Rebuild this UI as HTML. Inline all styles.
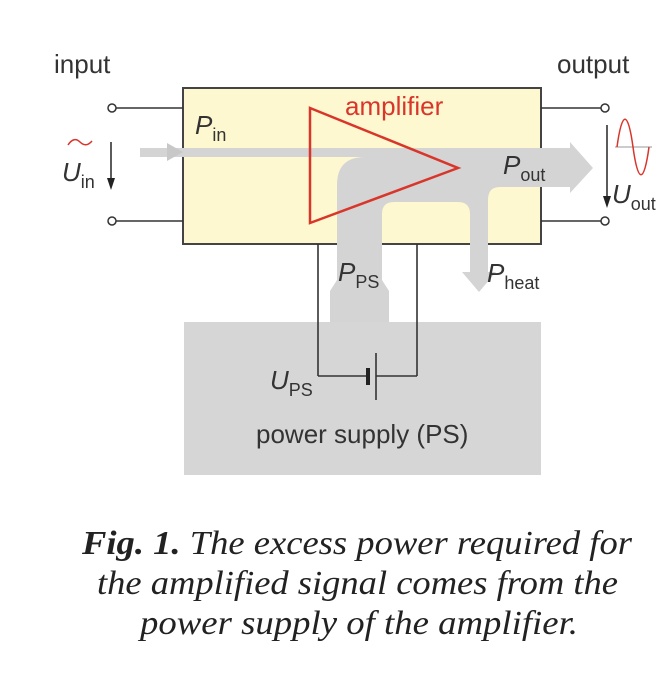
<!DOCTYPE html>
<html><head><style>body{margin:0;background:#fff}svg{display:block}</style></head><body>
<svg width="660" height="698" viewBox="0 0 660 698" xmlns="http://www.w3.org/2000/svg" font-family="Liberation Sans, sans-serif">
<rect x="183" y="88" width="358" height="156" fill="#fdf8cf" stroke="#444" stroke-width="2"/>
<rect x="184" y="322" width="357" height="153" fill="#d6d6d6"/>
<path d="M140,148 H570 V142 L593,168 L570,193 V187 H500 Q488,187 488,200 V272 H496 L479,292 L462,272 H470 V214 Q470,202 458,202 H394 Q382,202 382,214 V280 L389,291 V322 H330 V291 L337,280 V185 Q337,157 365,157 H140 Z" fill="#d4d4d4"/>
<path d="M167,143 L183,152 L167,161 Z" fill="#c8c8c8"/>
<polygon points="310,108 458,168 310,223" fill="none" stroke="#d9362b" stroke-width="2.5"/>
<g stroke="#333" stroke-width="1.6" fill="none">
<line x1="116" y1="108" x2="183" y2="108"/><line x1="116" y1="221" x2="183" y2="221"/>
<line x1="541" y1="108" x2="601" y2="108"/><line x1="541" y1="221" x2="601" y2="221"/>
<line x1="318" y1="244" x2="318" y2="376"/><line x1="417" y1="244" x2="417" y2="376"/>
<line x1="318" y1="376" x2="366" y2="376"/><line x1="376" y1="376" x2="417" y2="376"/>
<line x1="376" y1="353" x2="376" y2="400"/>
<line x1="111" y1="142" x2="111" y2="180"/><line x1="607" y1="125" x2="607" y2="198"/>
</g>
<line x1="368" y1="368" x2="368" y2="385" stroke="#222" stroke-width="4"/>
<circle cx="112" cy="108" r="4" fill="#fff" stroke="#333" stroke-width="1.5"/>
<circle cx="112" cy="221" r="4" fill="#fff" stroke="#333" stroke-width="1.5"/>
<circle cx="605" cy="108" r="4" fill="#fff" stroke="#333" stroke-width="1.5"/>
<circle cx="605" cy="221" r="4" fill="#fff" stroke="#333" stroke-width="1.5"/>
<path d="M107,178 L111,190 L115,178 Z" fill="#222"/>
<path d="M603,196 L607,208 L611,196 Z" fill="#222"/>
<path d="M68,145 Q74,136 80,142 T92,141" fill="none" stroke="#d9362b" stroke-width="1.5"/>
<line x1="615" y1="147" x2="652" y2="147" stroke="#999" stroke-width="1"/>
<path d="M617,147 C622,110 628,110 633,147 C638,184 644,184 649,147" fill="none" stroke="#d9362b" stroke-width="1.5"/>
<g fill="#333" font-size="26">
<text x="54" y="73">input</text>
<text x="557" y="73">output</text>
<text x="345" y="115" fill="#d9362b">amplifier</text>
<text x="195" y="134" font-style="italic">P<tspan font-size="18" font-style="normal" dy="7">in</tspan></text>
<text x="503" y="174" font-style="italic">P<tspan font-size="18" font-style="normal" dy="7">out</tspan></text>
<text x="62" y="181" font-style="italic">U<tspan font-size="18" font-style="normal" dy="7">in</tspan></text>
<text x="612" y="203" font-style="italic">U<tspan font-size="18" font-style="normal" dy="7">out</tspan></text>
<text x="487" y="282" font-style="italic">P<tspan font-size="18" font-style="normal" dy="7">heat</tspan></text>
<text x="338" y="281" font-style="italic">P<tspan font-size="18" font-style="normal" dy="7">PS</tspan></text>
<text x="270" y="389" font-style="italic">U<tspan font-size="18" font-style="normal" dy="7">PS</tspan></text>
<text x="256" y="443">power supply (PS)</text>
</g>
<g font-family="Liberation Serif, serif" font-style="italic" font-size="34" fill="#222">
<text x="82" y="554" textLength="550" lengthAdjust="spacingAndGlyphs"><tspan font-weight="bold">Fig. 1.</tspan> The excess power required for</text>
<text x="97" y="594" textLength="521" lengthAdjust="spacingAndGlyphs">the amplified signal comes from the</text>
<text x="140" y="634" textLength="438" lengthAdjust="spacingAndGlyphs">power supply of the amplifier.</text>
</g>
</svg>
</body></html>
